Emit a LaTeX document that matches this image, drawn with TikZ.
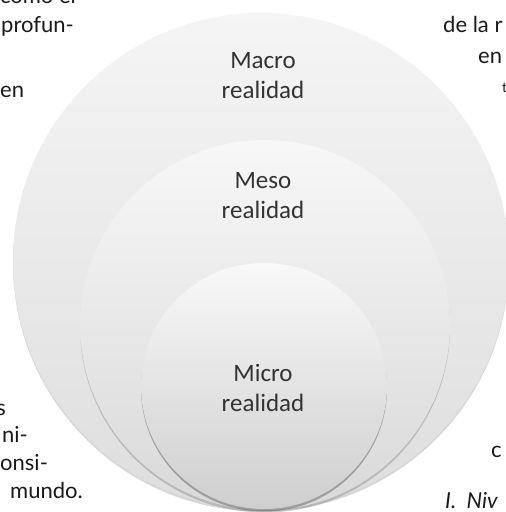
\documentclass[tikz,border=0pt]{standalone}
\usepackage{fontspec}
\setmainfont{Carlito}
\newfontfamily\pagefont{Lato}
\definecolor{levelink}{HTML}{333333}
\definecolor{pageink}{HTML}{1A1A1A}
\definecolor{rimgray}{HTML}{8C8C8C}

\begin{document}
\begin{tikzpicture}[x=1pt,y=-1pt,
  level/.style={align=center, text=levelink, font=\fontsize{25}{30}\selectfont},
  pagetext/.style={text=pageink, font=\pagefont\fontsize{22}{26}\selectfont, inner sep=0pt}]
\useasboundingbox (0,0) rectangle (506,512);
\clip (0,0) rectangle (506,512);

% Macro level (outer disc)
\fill[rimgray, opacity=0.35] (261,263.5) circle (248pt);
\shade[top color=white!92!gray, bottom color=white!74!gray] (261,261) circle (248pt);

% Meso level (middle disc)
\fill[rimgray, opacity=0.45] (265,327.5) circle (185pt);
\shade[top color=white!94!gray, bottom color=white!70!gray] (265,325) circle (185pt);

% Micro level (inner disc)
\fill[rimgray!70!black, opacity=0.5] (264,388.5) circle (123pt);
\shade[top color=white!95!gray, bottom color=white!62!gray] (264,386) circle (123pt);

% Level labels
\node[level] (macro) at (263,76) {Macro\\realidad};
\node[level] (meso) at (263,196) {Meso\\realidad};
\node[level] (micro) at (263,388) {Micro\\realidad};

% Cut-off page text, left
\node[pagetext, anchor=base east] (l1) at (76,3) {como el};
\node[pagetext, anchor=base west] (l2) at (1,32) {profun-};
\node[pagetext, anchor=base west] (l3) at (0,97) {en};
\node[pagetext, anchor=base east] (l4) at (6,415) {s};
\node[pagetext, anchor=base east] (l5) at (28,442) {ni-};
\node[pagetext, anchor=base west] (l6) at (0,470) {onsi-};
\node[pagetext, anchor=base east] (l7) at (83,498) {mundo.};

% Cut-off page text, right
\node[pagetext, anchor=base west] (r1) at (443,32) {de la r};
\node[pagetext, anchor=base west] (r2) at (478,63) {en};
\node[pagetext, anchor=base west, font=\pagefont\fontsize{14}{16}\selectfont] (r3) at (502,92) {t};
\node[pagetext, anchor=base west] (r4) at (491,457) {c};
\node[pagetext, anchor=base west, font=\pagefont\itshape\fontsize{22}{26}\selectfont] (r5) at (445,508) {I.~~Niv};
\end{tikzpicture}
\end{document}
